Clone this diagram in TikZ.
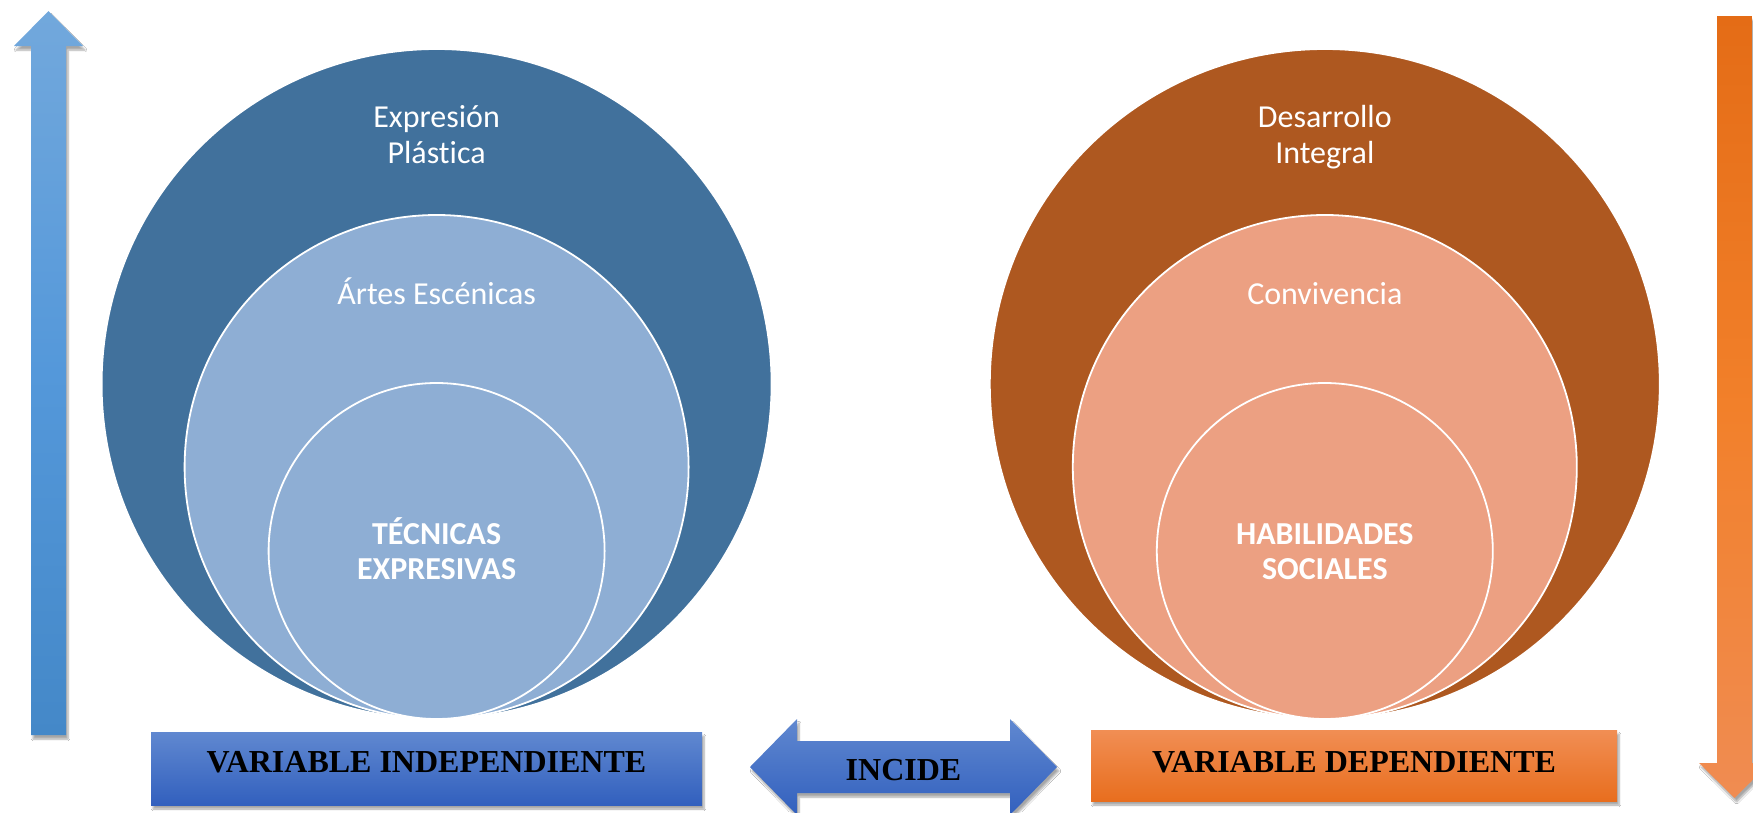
\documentclass[tikz,border=0pt]{standalone}
\usepackage{fontspec}
\setmainfont{Carlito}[Ligatures={NoCommon,NoRare}]
\newfontfamily\tnrfont{Liberation Serif}
\usetikzlibrary{shadows.blur}
\definecolor{bOuter}{RGB}{65,113,156}
\definecolor{bInner}{RGB}{142,174,212}
\definecolor{oOuter}{RGB}{174,88,32}
\definecolor{oInner}{RGB}{236,160,130}
\definecolor{bArrTop}{RGB}{114,168,220}
\definecolor{bArrMid}{RGB}{84,152,218}
\definecolor{bArrBot}{RGB}{68,136,200}
\definecolor{oArrTop}{RGB}{228,108,22}
\definecolor{oArrMid}{RGB}{242,128,42}
\definecolor{oArrBot}{RGB}{240,140,82}
\definecolor{bBoxTop}{RGB}{96,136,208}
\definecolor{bBoxBot}{RGB}{50,96,190}
\definecolor{oBoxTop}{RGB}{241,142,84}
\definecolor{oBoxBot}{RGB}{232,110,30}
\tikzset{
  ring/.style={circle, draw=white, line width=1.8pt, inner sep=0pt},
  lbl/.style={text=white, font=\fontsize{32}{36}\selectfont, anchor=base, align=center},
  blbl/.style={text=white, font=\fontsize{32}{35}\selectfont\bfseries, anchor=base, align=center},
  vlbl/.style={text=black, font=\tnrfont\fontsize{32}{38}\selectfont\bfseries, anchor=base},
  shd/.style={blur shadow={shadow xshift=2pt, shadow yshift=-4pt, shadow blur steps=6, shadow opacity=35}},
}
\begin{document}
\begin{tikzpicture}[x=1pt,y=-1pt]
\useasboundingbox (0,0) rectangle (1753,812);
\fill[white] (0,0) rectangle (1753,812);
% left vertical arrow
\shade[shd, top color=bArrTop, bottom color=bArrBot, middle color=bArrMid]
  (31,735) -- (31,46) -- (14,46) -- (48.5,11) -- (83,46) -- (66,46) -- (66,735) -- cycle;
% right vertical arrow
\shade[shd, top color=oArrTop, bottom color=oArrBot, middle color=oArrMid]
  (1717,16) -- (1717,763) -- (1699,763) -- (1734.5,798) -- (1770,763) -- (1752,763) -- (1752,16) -- cycle;
% left circles
\node[ring, fill=bOuter, minimum size=670pt] (lo) at (436.6,384) {};
\node[ring, fill=bInner, minimum size=504pt] (lm) at (436.6,467) {};
\node[ring, fill=bInner, minimum size=336pt] (li) at (436.6,551) {};
% right circles
\node[ring, fill=oOuter, minimum size=670pt] (ro) at (1324.8,384) {};
\node[ring, fill=oInner, minimum size=504pt] (rm) at (1324.8,467) {};
\node[ring, fill=oInner, minimum size=336pt] (ri) at (1324.8,551) {};
% circle labels (base = baseline of last line)
\node[lbl] (t1) at (436.6,163) {Expresión\\Plástica};
\node[lbl] (t2) at (436.6,304) {Ártes Escénicas};
\node[blbl] (t3) at (436.6,579) {TÉCNICAS\\EXPRESIVAS};
\node[lbl] (t4) at (1324.8,163) {Desarrollo\\Integral};
\node[lbl] (t5) at (1324.8,304) {Convivencia};
\node[blbl] (t6) at (1324.8,579) {HABILIDADES\\SOCIALES};
% bottom boxes
\shade[shd, top color=bBoxTop, bottom color=bBoxBot] (151,732) rectangle (702,805);
\node[vlbl] (vi) at (426.5,772) {VARIABLE INDEPENDIENTE};
\shade[shd, top color=oBoxTop, bottom color=oBoxBot] (1091,730) rectangle (1617,801);
\node[vlbl] (vd) at (1354,772) {VARIABLE DEPENDIENTE};
% double arrow
\shade[shd, top color=bBoxTop, bottom color=bBoxBot]
  (750,767) -- (797,719) -- (797,741) -- (1010,741) -- (1010,719) -- (1057,767)
  -- (1010,815) -- (1010,793) -- (797,793) -- (797,815) -- cycle;
\node[vlbl] (inc) at (903.5,780) {INCIDE};
\end{tikzpicture}
\end{document}
